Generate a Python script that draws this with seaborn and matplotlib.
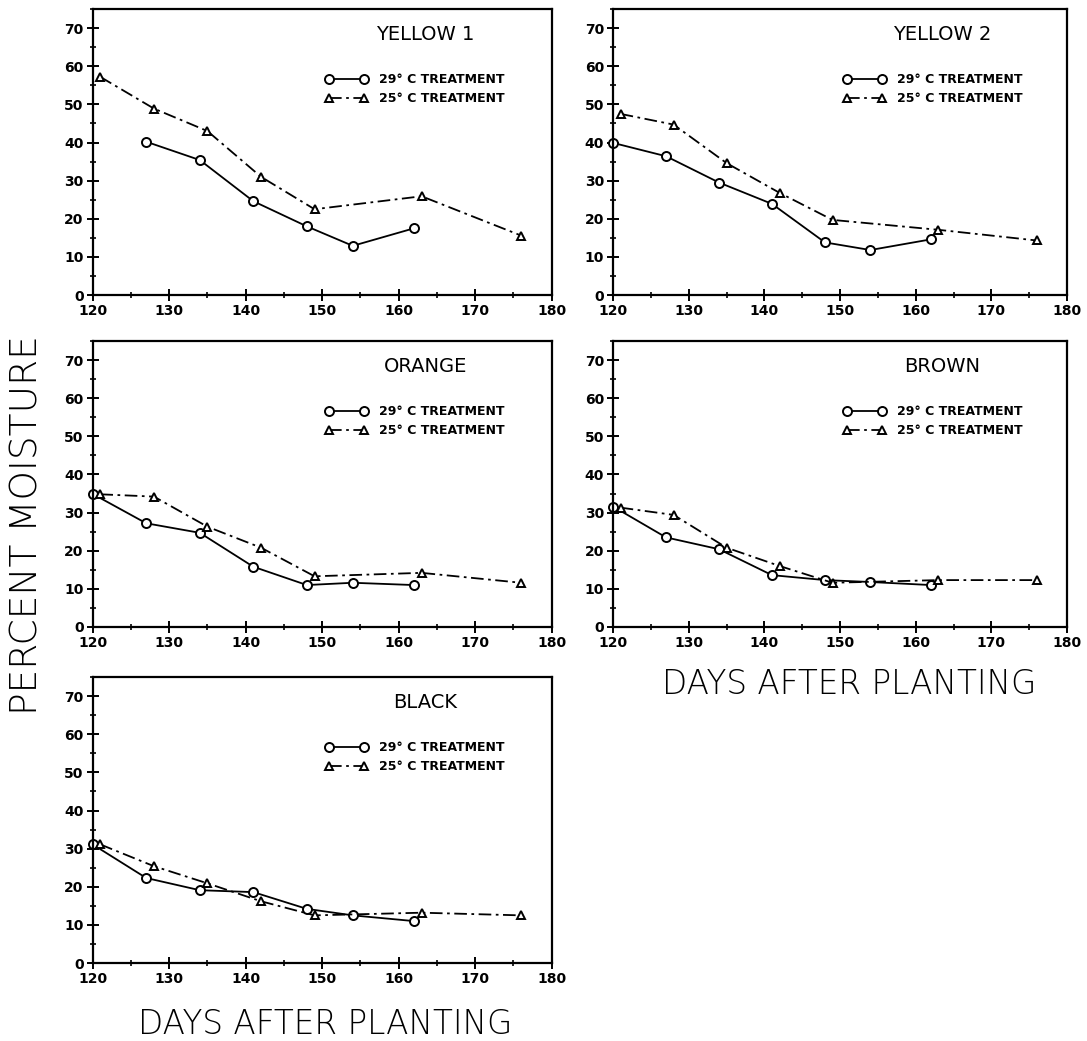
import numpy as np
import pandas as pd
import seaborn as sns
import matplotlib.pyplot as plt
from matplotlib.ticker import MultipleLocator

sns.set_theme(style="white")
plt.rcParams['font.family'] = ['DejaVu Sans']
plt.rcParams.update({'text.color': 'black', 'xtick.color': 'black',
                     'ytick.color': 'black', 'axes.labelcolor': 'black'})

# sampling days
days_29 = [120, 127, 134, 141, 148, 154, 162]
days_29_y1 = [127, 134, 141, 148, 154, 162]
days_25 = [121, 128, 135, 142, 149, 163, 176]

# percent moisture
yellow1_29 = [40.2, 35.4, 24.6, 18.0, 12.9, 17.5]
yellow1_25 = [57.2, 48.9, 43.0, 31.0, 22.5, 25.9, 15.6]
yellow2_29 = [39.9, 36.4, 29.5, 23.9, 13.8, 11.8, 14.6]
yellow2_25 = [47.5, 44.7, 34.6, 26.8, 19.7, 17.1, 14.3]
orange_29 = [34.9, 27.2, 24.7, 15.8, 11.0, 11.6, 11.0]
orange_25 = [34.8, 34.2, 26.3, 20.8, 13.3, 14.2, 11.6]
brown_29 = [31.6, 23.5, 20.4, 13.6, 12.3, 11.8, 11.0]
brown_25 = [31.3, 29.4, 20.8, 16.0, 11.6, 12.3, 12.3]
black_29 = [31.1, 22.3, 19.1, 18.6, 14.2, 12.5, 11.0]
black_25 = [31.1, 25.4, 20.9, 16.2, 12.5, 13.2, 12.5]

legend_labels = ['29° C TREATMENT', '25° C TREATMENT']

panels = [
    ('YELLOW 1', days_29_y1, yellow1_29, yellow1_25),
    ('YELLOW 2', days_29, yellow2_29, yellow2_25),
    ('ORANGE', days_29, orange_29, orange_25),
    ('BROWN', days_29, brown_29, brown_25),
    ('BLACK', days_29, black_29, black_25),
]

# axes boxes in figure fraction
col_left = [0.0853, 0.564]
col_width = [0.4222, 0.4177]
row_bottom = [0.7166, 0.3977, 0.0749]
ax_h = 0.2747

fig = plt.figure(figsize=(10.87, 10.41), dpi=100)

for i, (name, d29, v29, v25) in enumerate(panels):
    r, c = divmod(i, 2)
    ax = fig.add_axes([col_left[c], row_bottom[r], col_width[c], ax_h])

    df = pd.concat([
        pd.DataFrame({'day': d29, 'moisture': v29, 'treatment': '29'}),
        pd.DataFrame({'day': days_25, 'moisture': v25, 'treatment': '25'}),
    ])
    sns.lineplot(data=df, x='day', y='moisture', style='treatment',
                 style_order=['29', '25'],
                 markers={'29': 'o', '25': '^'},
                 dashes={'29': '', '25': (7, 2.5, 1.5, 2.5)},
                 color='black', linewidth=1.3, markersize=6.5,
                 markerfacecolor='white', markeredgecolor='black',
                 markeredgewidth=1.4, errorbar=None, legend=False,
                 clip_on=False, ax=ax)
    ax.lines[0].set_markersize(6.5)
    ax.lines[1].set_markersize(5.8)

    ax.set_xlim(120, 180)
    ax.set_ylim(0, 75)
    ax.xaxis.set_major_locator(MultipleLocator(10))
    ax.xaxis.set_minor_locator(MultipleLocator(5))
    ax.yaxis.set_major_locator(MultipleLocator(10))
    ax.yaxis.set_minor_locator(MultipleLocator(5))
    ax.set_yticks(np.arange(0, 71, 10))
    ax.tick_params(which='major', direction='inout', length=9, width=1.4,
                   labelsize=10, pad=2, bottom=True, left=True,
                   colors='black')
    ax.tick_params(which='minor', direction='inout', length=5, width=1.2,
                   bottom=True, left=True, colors='black')
    for lab in ax.get_xticklabels() + ax.get_yticklabels():
        lab.set_fontweight('bold')
    ax.set_xlabel('')
    ax.set_ylabel('')
    for sp in ax.spines.values():
        sp.set_linewidth(1.6)
        sp.set_color('black')

    ax.text(0.725, 0.91, name, transform=ax.transAxes, ha='center',
            va='center', fontsize=14, color='black')
    ax.legend(ax.lines[:2], legend_labels, loc='upper left',
              bbox_to_anchor=(0.506, 0.775), frameon=False, numpoints=2,
              borderpad=0, borderaxespad=0, handlelength=3.4,
              handletextpad=0.9, labelspacing=0.45,
              prop={'size': 9, 'weight': 'bold'}, labelcolor='black')

fig.text(27 / 1087, 1 - 525 / 1041, 'PERCENT MOISTURE', rotation=90,
         ha='center', va='center', fontsize=27, fontweight='light')
fig.text(325 / 1087, 1 - 1024 / 1041, 'DAYS AFTER PLANTING',
         ha='center', va='center', fontsize=23.5, fontweight='light')
fig.text(849 / 1087, 1 - 684 / 1041, 'DAYS AFTER PLANTING',
         ha='center', va='center', fontsize=23.5, fontweight='light')

fig.savefig('out.png', dpi=100)
